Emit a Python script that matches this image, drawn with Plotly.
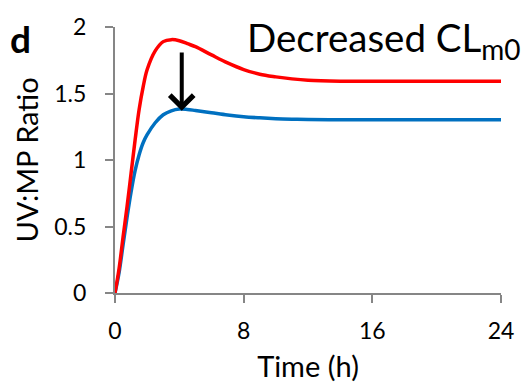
import plotly.graph_objects as go

time_h = [0, 0.25, 0.5, 0.75, 1, 1.25, 1.5, 1.75, 2, 2.5, 3, 3.5, 4, 4.5, 5, 6, 7, 8, 9, 10, 11, 12, 14, 16, 20, 24]
red_ratio = [0, 0.18, 0.42, 0.65, 0.9, 1.15, 1.38, 1.55, 1.68, 1.82, 1.89, 1.905, 1.897, 1.875, 1.852, 1.79, 1.73, 1.68, 1.645, 1.625, 1.61, 1.60, 1.593, 1.592, 1.592, 1.592]
blue_ratio = [0, 0.15, 0.36, 0.57, 0.76, 0.92, 1.04, 1.13, 1.19, 1.28, 1.34, 1.37, 1.383, 1.38, 1.372, 1.355, 1.338, 1.325, 1.317, 1.311, 1.307, 1.305, 1.303, 1.302, 1.302, 1.302]

x_ticks = [0, 8, 16, 24]
y_ticks = [0, 0.5, 1, 1.5, 2]
y_tick_text = ["0", "0.5", "1", "1.5", "2"]

arrow_time = 4.15
arrow_start = 1.82
arrow_end = 1.37

FONT = "Lato"
AXIS_COLOR = "#868686"

fig = go.Figure()
fig.add_trace(go.Scatter(x=time_h, y=blue_ratio, mode="lines", line=dict(color="#0070C0", width=3.5, shape="spline"), showlegend=False))
fig.add_trace(go.Scatter(x=time_h, y=red_ratio, mode="lines", line=dict(color="#FF0000", width=3.5, shape="spline"), showlegend=False))

# arrow
fig.add_annotation(x=arrow_time, y=arrow_end, ax=arrow_time, ay=arrow_start, xref="x", yref="y", axref="x", ayref="y",
                   text="", font=dict(size=1), showarrow=True, arrowhead=4, arrowsize=1.15, arrowwidth=4,
                   arrowcolor="black")

fig.add_annotation(x=-0.245, y=0.955, xref="paper", yref="paper", text="<b>d</b>", showarrow=False,
                   font=dict(family=FONT, size=37, color="black"), xanchor="center", yanchor="middle")
fig.add_annotation(x=0.338, y=1.055, xref="paper", yref="paper",
                   text="Decreased CL<sub><span style='font-size:28px'>m0</span></sub>", showarrow=False,
                   font=dict(family=FONT, size=38.5, color="black"), xanchor="left", yanchor="top")

fig.update_layout(
    width=526, height=392,
    margin=dict(l=115, r=17, t=20, b=99),
    plot_bgcolor="white", paper_bgcolor="white",
    font=dict(family=FONT, size=20, color="black"),
)
fig.update_xaxes(range=[0, 24], tickvals=x_ticks, showgrid=False, zeroline=False, showline=True,
                 linecolor=AXIS_COLOR, linewidth=2, ticks="outside", ticklen=8, tickwidth=2, tickcolor=AXIS_COLOR,
                 ticklabelstandoff=8,
                 tickfont=dict(size=23), title=dict(text="Time (h)", font=dict(size=29), standoff=14))
fig.update_yaxes(range=[0, 2], tickvals=y_ticks, ticktext=y_tick_text, showgrid=False, zeroline=False, showline=True,
                 linecolor=AXIS_COLOR, linewidth=2, ticks="outside", ticklen=8, tickwidth=2, tickcolor=AXIS_COLOR,
                 ticklabelstandoff=14,
                 tickfont=dict(size=23), title=dict(text="UV:MP Ratio", font=dict(size=29), standoff=7))

fig.write_html("out.html")
